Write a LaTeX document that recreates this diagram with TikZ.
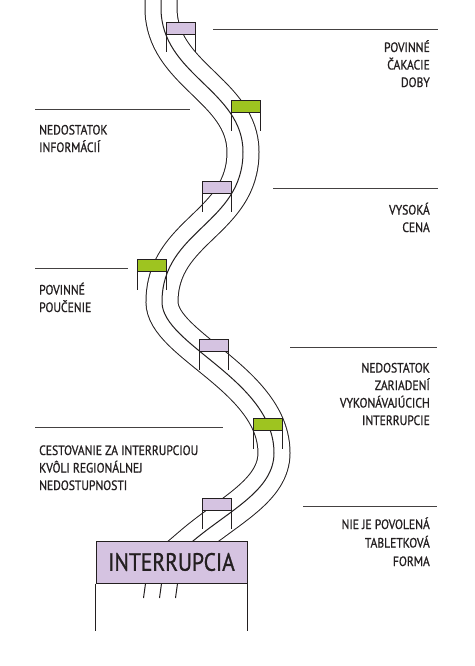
\documentclass[tikz,border=0pt]{standalone}
\usepackage{fontspec}
\setmainfont{PT Sans}[FakeStretch=0.86, FakeBold=0.9]
\definecolor{lila}{RGB}{213,195,225}
\definecolor{zelena}{RGB}{158,196,32}
\definecolor{ink}{RGB}{35,31,32}

\tikzset{
  caption/.style={font=\fontsize{13.5}{17.5}\selectfont, text=ink, inner sep=0pt},
  rule/.style={draw=ink!85, line width=1pt},
  hurdle/.style={draw=ink, line width=0.8pt},
}

\begin{document}
\begin{tikzpicture}[x=1pt,y=-1pt]
  \useasboundingbox (0,0) rectangle (474,666);
  \clip (0,0) rectangle (474,666);

  % the winding road, middle line
  \coordinate (w0) at (161,-15);
  \coordinate (w1) at (161,8);
  \coordinate (w2) at (243,152);
  \coordinate (w3) at (162,302);
  \coordinate (w4) at (274,453);
  \coordinate (w5) at (193,541);
  \coordinate (w6) at (172,559);
  \coordinate (s1) at (162,580);
  \coordinate (s2) at (159.5,598);

  \foreach \lw/\col in {33pt/ink, 31pt/white, 1pt/ink}
    \draw[line width=\lw, draw=\col] (w0) -- (w1)
      .. controls +(0,67) and +(0,-62) .. (w2)
      .. controls +(0,72) and +(0,-72) .. (w3)
      .. controls +(0,43) and +(0,-73) .. (w4)
      .. controls +(0,37) and +(37,-31) .. (w5) -- (w6);

  % the road under the goal
  \foreach \d in {-16,0,16}
    \draw[draw=ink, line width=1pt] ([xshift=\d pt]s1) -- ([xshift=\d pt]s2);

  % hurdles
  \foreach \x/\y/\c in {166/22/lila, 231/100/zelena, 202/181/lila, 137/259/zelena,
                        199/339/lila, 253/418/zelena, 202/498/lila}{
    \draw[hurdle, fill=\c] (\x,\y) rectangle ++(29,12.5);
    \draw[hurdle] (\x,\y+12.5) -- ++(0,18) (\x+29,\y+12.5) -- ++(0,18);
  }

  % goal
  \node[draw=ink, line width=1pt, fill=lila, minimum width=151pt, minimum height=42pt,
        inner sep=0pt, text=ink, font=\fontsize{25}{28}\selectfont] (goal) at (171.5,562) {INTERRUPCIA};
  \draw[draw=ink, line width=1pt] (goal.south west) -- ++(0,47) (goal.south east) -- ++(0,47);

  % captions (anchored at the baseline of their last line)
  \draw[rule] (213,30) -- (438,30);
  \node[caption, anchor=base east, align=right] (c1) at (430,87) {POVINNÉ\\ČAKACIE\\DOBY};
  \draw[rule] (35,110) -- (190,110);
  \node[caption, anchor=base west, align=left] (c2) at (39,152) {NEDOSTATOK\\INFORMÁCIÍ};
  \draw[rule] (273,188) -- (438,188);
  \node[caption, anchor=base east, align=right] (c3) at (430,232) {VYSOKÁ\\CENA};
  \draw[rule] (35,268) -- (128,268);
  \node[caption, anchor=base west, align=left] (c4) at (39,312) {POVINNÉ\\POUČENIE};
  \draw[rule] (290,347) -- (437,347);
  \node[caption, anchor=base east, align=right] (c5) at (430,425) {NEDOSTATOK\\ZARIADENÍ\\VYKONÁVAJÚCICH\\INTERRUPCIE};
  \draw[rule] (35,427) -- (223,427);
  \node[caption, anchor=base west, align=left] (c6) at (39,490) {CESTOVANIE ZA INTERRUPCIOU\\KVÔLI REGIONÁLNEJ\\NEDOSTUPNOSTI};
  \draw[rule] (303,506) -- (437,506);
  \node[caption, anchor=base east, align=right, font=\fontsize{13.5}{18.5}\selectfont] (c7) at (430,566) {NIE JE POVOLENÁ\\TABLETKOVÁ\\FORMA};
\end{tikzpicture}
\end{document}
